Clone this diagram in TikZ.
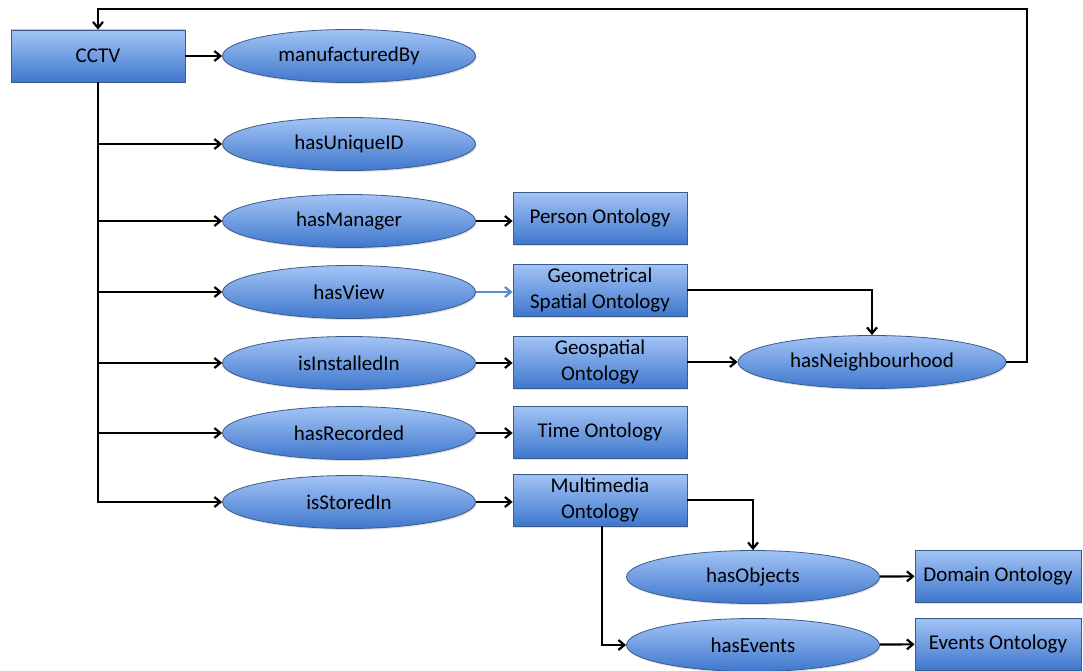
\documentclass[tikz,border=0pt]{standalone}
\usepackage{fontspec}
\setmainfont{Carlito}
\usetikzlibrary{shapes.geometric,arrows.meta,shadows}
\definecolor{topblue}{HTML}{A3C4F5}
\definecolor{botblue}{HTML}{3F77CD}
\definecolor{edgeblue}{HTML}{3A5C8C}
\definecolor{lightarrow}{HTML}{5C8CCB}
\begin{document}
\begin{tikzpicture}[x=1pt,y=-1pt,
  shapebase/.style={draw=edgeblue, line width=0.8pt, top color=topblue, bottom color=botblue,
    inner sep=0pt, align=center, font=\fontsize{21}{26}\selectfont,
    drop shadow={shadow xshift=1pt,shadow yshift=-1.5pt,opacity=0.25}},
  box/.style={shapebase, rectangle, minimum width=174pt, minimum height=52pt},
  ell/.style={shapebase, ellipse, minimum width=253pt, minimum height=53pt},
  arr/.style={-{Straight Barb[length=6pt,width=10pt,line width=2.2pt]}, line width=2.2pt, black},
  arrlight/.style={arr, draw=lightarrow}]
\useasboundingbox (0,0) rectangle (1083,671);
\node[box] (cctv) at (98,56) {CCTV};
\node[ell] (mb) at (349,56) {manufacturedBy};
\node[ell] (uid) at (349,144) {hasUniqueID};
\node[ell] (man) at (349,221) {hasManager};
\node[box] (person) at (600,218) {Person Ontology};
\node[ell] (view) at (349,292) {hasView};
\node[box] (geom) at (600,290) {Geometrical\\Spatial Ontology};
\node[ell] (inst) at (349,363) {isInstalledIn};
\node[box] (geo) at (600,362) {Geospatial\\Ontology};
\node[ell, minimum width=268pt] (neigh) at (872,362) {hasNeighbourhood};
\node[ell] (rec) at (349,433) {hasRecorded};
\node[box] (time) at (600,432) {Time Ontology};
\node[ell] (stor) at (349,502) {isStoredIn};
\node[box] (mm) at (600,500) {Multimedia\\Ontology};
\node[ell] (obj) at (753,577) {hasObjects};
\node[box, minimum width=166pt] (dom) at (998,576) {Domain Ontology};
\node[ell] (ev) at (753,645) {hasEvents};
\node[box, minimum width=166pt] (evo) at (998,644) {Events Ontology};
\coordinate (loop) at (1027,9);
\coordinate (mmb) at (602,526);
% connectors
\draw[arr] (cctv) -- (mb);
\draw[arr] (cctv.south) |- (uid.west);
\draw[arr] (cctv.south) |- (man.west);
\draw[arr] (cctv.south) |- (view.west);
\draw[arr] (cctv.south) |- (inst.west);
\draw[arr] (cctv.south) |- (rec.west);
\draw[arr] (cctv.south) |- (stor.west);
\draw[arr] (man.east) -- (man.east -| person.west);
\draw[arrlight] (view.east) -- (view.east -| geom.west);
\draw[arr] (inst.east) -- (inst.east -| geo.west);
\draw[arr] (rec.east) -- (rec.east -| time.west);
\draw[arr] (stor.east) -- (stor.east -| mm.west);
\draw[arr] (geom.east) -| (neigh.north);
\draw[arr] (geo) -- (neigh);
\draw[arr] (neigh.east) -| (loop) -| (cctv.north);
\draw[arr] (mm.east) -| (obj.north);
\draw[arr] (mmb) |- (ev.west);
\draw[arr] (obj) -- (dom);
\draw[arr] (ev) -- (evo);
\end{tikzpicture}
\end{document}
